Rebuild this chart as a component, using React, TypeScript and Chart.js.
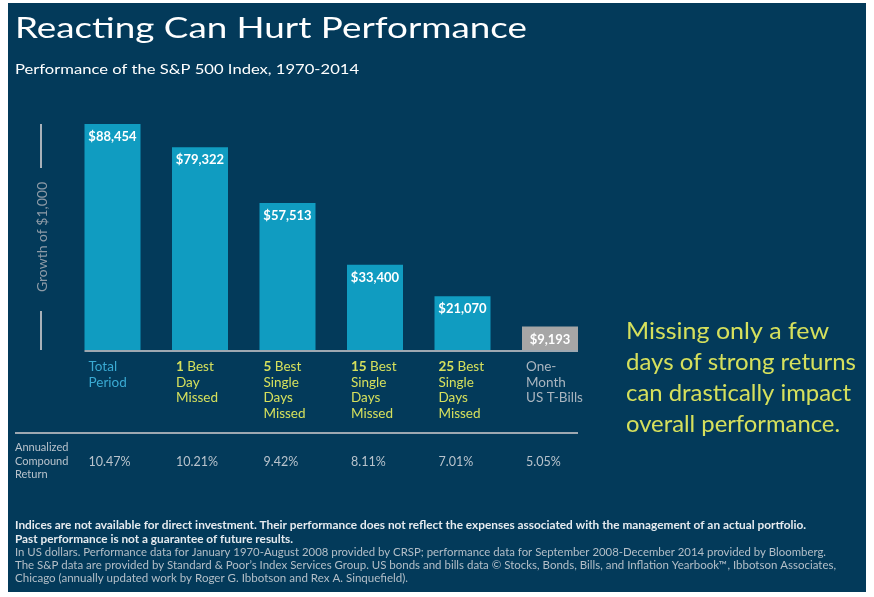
import React, { useEffect, useRef } from "react";
import { Chart, registerables } from "chart.js";

Chart.register(...registerables);

const titleText = "Reacting Can Hurt Performance";
const subtitleText = "Performance of the S&P 500 Index, 1970-2014";
const yAxisTitle = "Growth of $1,000";

const categoryLines: string[][] = [
  ["Total", "Period"],
  ["1 Best", "Day", "Missed"],
  ["5 Best", "Single", "Days", "Missed"],
  ["15 Best", "Single", "Days", "Missed"],
  ["25 Best", "Single", "Days", "Missed"],
  ["One-", "Month", "US T-Bills"],
];
const categoryKinds = ["total", "missed", "missed", "missed", "missed", "bills"];
const growthValues = [88454, 79322, 57513, 33400, 21070, 9193];
const valueLabels = ["$88,454", "$79,322", "$57,513", "$33,400", "$21,070", "$9,193"];
const returnRowLabel = ["Annualized", "Compound", "Return"];
const annualizedReturns = ["10.47%", "10.21%", "9.42%", "8.11%", "7.01%", "5.05%"];
const calloutLines = [
  "Missing only a few",
  "days of strong returns",
  "can drastically impact",
  "overall performance.",
];
const calloutWidths = [203, 230, 225, 214];
const footerBold = [
  "Indices are not available for direct investment. Their performance does not reflect the expenses associated with the management of an actual portfolio.",
  "Past performance is not a guarantee of future results.",
];
const footerBoldWidths = [791, 278];
const footerNormal = [
  "In US dollars. Performance data for January 1970-August 2008 provided by CRSP; performance data for September 2008-December 2014 provided by Bloomberg.",
  "The S&P data are provided by Standard & Poor\u2019s Index Services Group. US bonds and bills data \u00A9 Stocks, Bonds, Bills, and Inflation Yearbook\u2122, Ibbotson Associates,",
  "Chicago (annually updated work by Roger G. Ibbotson and Rex A. Sinquefield).",
];
const footerNormalWidths = [811, 821, 393];

const W = 874;
const H = 597;
const NAVY = "#033a5a";
const BAR = "#109cc1";
const GRAY_BAR = "#a6a6a6";
const YELLOW = "#d6e05c";
const LIGHT_BLUE = "#3aaad3";
const SOFT = "#b9c3cc";
const FONT = "Lato, 'Open Sans', sans-serif";

function fitText(ctx: CanvasRenderingContext2D, text: string, x: number, y: number, font: string, width?: number) {
  ctx.save();
  ctx.font = font;
  if (width) {
    const m = ctx.measureText(text).width;
    const s = width / m;
    ctx.translate(x, y);
    ctx.scale(s, 1);
    ctx.fillText(text, 0, 0);
  } else {
    ctx.fillText(text, x, y);
  }
  ctx.restore();
}

const panelPlugin = {
  id: "panel",
  beforeDraw(chart: any) {
    const ctx = chart.ctx as CanvasRenderingContext2D;
    ctx.save();
    ctx.fillStyle = "#ffffff";
    ctx.fillRect(0, 0, W, H);
    ctx.fillStyle = NAVY;
    ctx.fillRect(8, 3, 858, 589);
    ctx.restore();
  },
};

const textPlugin = {
  id: "texts",
  afterDatasetsDraw(chart: any) {
    const ctx = chart.ctx as CanvasRenderingContext2D;
    const meta = chart.getDatasetMeta(0);
    const bars = meta.data as any[];
    const yScale = chart.scales.y;
    const base = yScale.getPixelForValue(0);
    ctx.save();
    ctx.textBaseline = "alphabetic";
    ctx.textAlign = "left";

    // title + subtitle
    ctx.fillStyle = "#ffffff";
    fitText(ctx, titleText, 15, 38, `28px ${FONT}`, 512);
    fitText(ctx, subtitleText, 15, 74, `14px ${FONT}`, 344);

    // baseline
    const first = bars[0];
    const last = bars[bars.length - 1];
    ctx.strokeStyle = "#9ea8b1";
    ctx.lineWidth = 2;
    ctx.beginPath();
    ctx.moveTo(first.x - first.width / 2, base + 1);
    ctx.lineTo(last.x + last.width / 2, base + 1);
    ctx.stroke();

    // y-axis title and its bracket lines
    const top = yScale.getPixelForValue(growthValues[0]);
    ctx.strokeStyle = "#a9b1b9";
    ctx.lineWidth = 2;
    ctx.beginPath();
    ctx.moveTo(41, top);
    ctx.lineTo(41, top + 44);
    ctx.moveTo(41, base - 39);
    ctx.lineTo(41, base);
    ctx.stroke();
    ctx.save();
    ctx.translate(47, (top + base) / 2);
    ctx.rotate(-Math.PI / 2);
    ctx.textAlign = "center";
    ctx.fillStyle = "#8e9ba7";
    ctx.font = `14px ${FONT}`;
    ctx.fillText(yAxisTitle, 0, 0);
    ctx.restore();

    // value labels inside bars
    ctx.textAlign = "center";
    ctx.fillStyle = "#ffffff";
    ctx.font = `bold 13px ${FONT}`;
    bars.forEach((b: any, i: number) => {
      ctx.fillText(valueLabels[i], b.x, b.y + 17);
    });

    // category labels
    ctx.textAlign = "left";
    bars.forEach((b: any, i: number) => {
      const x0 = b.x - b.width / 2 + 4;
      const kind = categoryKinds[i];
      const color = kind === "total" ? LIGHT_BLUE : kind === "bills" ? "#aab5bf" : YELLOW;
      ctx.fillStyle = color;
      categoryLines[i].forEach((line, j) => {
        const y = 371 + j * 15.5;
        if (kind === "missed" && j === 0) {
          const sp = line.indexOf(" ");
          const num = line.slice(0, sp);
          const rest = line.slice(sp);
          ctx.font = `bold 13.5px ${FONT}`;
          ctx.fillText(num, x0, y);
          const w = ctx.measureText(num).width;
          ctx.font = `13.5px ${FONT}`;
          ctx.fillText(rest, x0 + w, y);
        } else {
          ctx.font = `13.5px ${FONT}`;
          ctx.fillText(line, x0, y);
        }
      });
    });

    // separator
    ctx.strokeStyle = "#9ea8b1";
    ctx.lineWidth = 2;
    ctx.beginPath();
    ctx.moveTo(15, 433);
    ctx.lineTo(last.x + last.width / 2, 433);
    ctx.stroke();

    // annualized returns
    ctx.fillStyle = SOFT;
    ctx.font = `11px ${FONT}`;
    returnRowLabel.forEach((t, j) => ctx.fillText(t, 15, 451 + j * 13.5));
    ctx.font = `12.5px ${FONT}`;
    bars.forEach((b: any, i: number) => {
      ctx.fillText(annualizedReturns[i], b.x - b.width / 2 + 4, 465.5);
    });

    // callout
    ctx.fillStyle = YELLOW;
    calloutLines.forEach((t, j) => {
      fitText(ctx, t, 626, 339 + j * 31, `23px ${FONT}`, calloutWidths[j]);
    });

    // footer
    ctx.fillStyle = "#e6ebef";
    footerBold.forEach((t, j) => fitText(ctx, t, 15, 529 + j * 14, `bold 11px ${FONT}`, footerBoldWidths[j]));
    ctx.fillStyle = "#b4bfc8";
    footerNormal.forEach((t, j) => fitText(ctx, t, 15, 556 + j * 13, `11px ${FONT}`, footerNormalWidths[j]));

    ctx.restore();
  },
};

export default function App() {
  const ref = useRef<HTMLCanvasElement>(null);
  useEffect(() => {
    if (!ref.current) return;
    const chart = new Chart(ref.current, {
      type: "bar",
      data: {
        labels: categoryLines.map((l) => l.join(" ")),
        datasets: [
          {
            data: growthValues,
            backgroundColor: growthValues.map((_, i) => (categoryKinds[i] === "bills" ? GRAY_BAR : BAR)),
            borderWidth: 0,
            categoryPercentage: 1,
            barPercentage: 0.64,
          },
        ],
      },
      options: {
        responsive: false,
        animation: false,
        devicePixelRatio: 1,
        layout: { padding: { left: 68.75, right: 280.25, top: 94.5, bottom: 247 } },
        scales: {
          x: { display: false },
          y: { display: false, min: 0, max: 100000 },
        },
        plugins: { legend: { display: false }, tooltip: { enabled: false }, title: { display: false } },
      },
      plugins: [panelPlugin, textPlugin],
    });
    return () => chart.destroy();
  }, []);
  return (
    <canvas
      ref={ref}
      width={W}
      height={H}
      style={{ position: "fixed", left: 0, top: 0, width: W, height: H }}
    />
  );
}
